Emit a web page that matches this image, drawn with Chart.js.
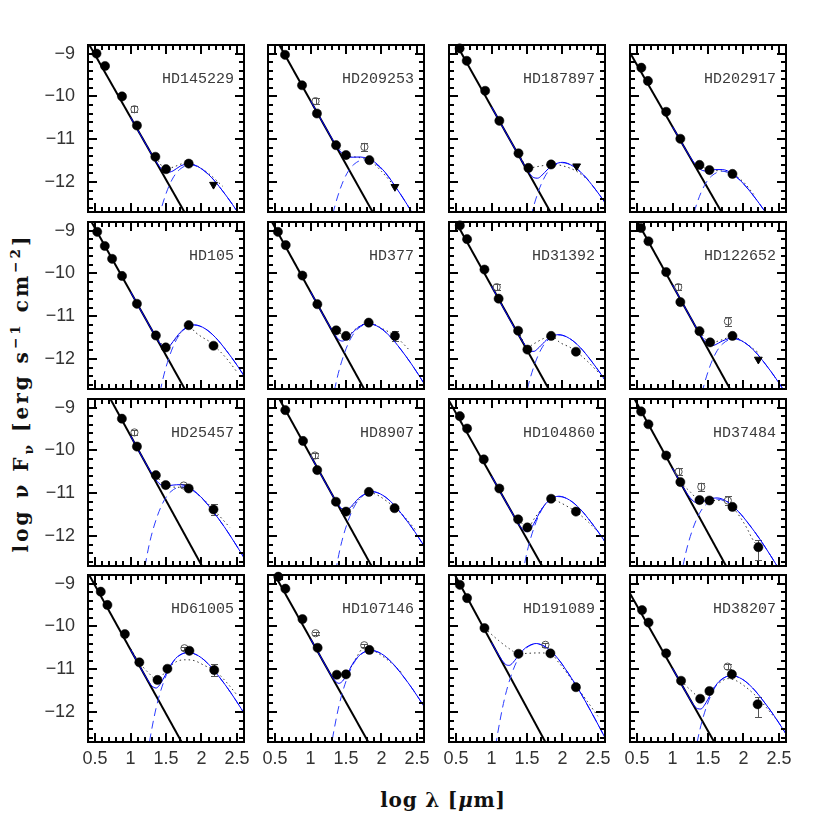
<!DOCTYPE html>
<html><head><meta charset="utf-8">
<script src="https://cdn.jsdelivr.net/npm/chart.js@4.4.1/dist/chart.umd.min.js"></script>
<style>
html,body{margin:0;padding:0;background:#fff;width:830px;height:830px;overflow:hidden;}
#wrap{position:relative;width:830px;height:830px;}
canvas{position:absolute;}
.title{position:absolute;font-family:"DejaVu Serif",serif;font-weight:bold;color:#111;white-space:nowrap;line-height:1;}
.title sub,.title sup{font-size:68%;}
</style></head><body><div id="wrap">
<div id="ytitle" class="title" style="left:22px;top:393px;font-size:20px;letter-spacing:3px;transform:translate(-50%,-50%) rotate(-90deg);">log&nbsp;ν&nbsp;F<sub>ν</sub>&nbsp;[erg&nbsp;s<sup>−1</sup>&nbsp;cm<sup>−2</sup>]</div>
<div id="xtitle" class="title" style="left:443px;top:800px;font-size:20px;letter-spacing:0.8px;transform:translate(-50%,-50%);">log&nbsp;λ&nbsp;[<i>μ</i>m]</div>
</div>
<script>
// ---------------- data ----------------
const names = ['HD145229','HD209253','HD187897','HD202917','HD105','HD377','HD31392','HD122652','HD25457','HD8907','HD104860','HD37484','HD61005','HD107146','HD191089','HD38207'];
const xTickVals = [0.5,1,1.5,2,2.5];
const xTickLabels = ['0.5','1','1.5','2','2.5'];
const yTickVals = [-9,-10,-11,-12];
const yTickLabels = ['\u22129','\u221210','\u221211','\u221212'];

// stellar photosphere (straight line endpoints)
const photX = [[0.42,1.76],[0.56,1.876],[0.51,1.83],[0.40,1.69],[0.45,1.765],[0.456,1.756],[0.497,1.806],[0.507,1.811],[0.716,2.007],[0.56,1.86],[0.40,1.713],[0.464,1.755],[0.417,1.72],[0.496,1.814],[0.484,1.759],[0.40,1.588]];
const photY = [[-8.8,-12.7],[-8.8,-12.7],[-8.8,-12.7],[-8.98,-12.7],[-8.8,-12.7],[-8.8,-12.7],[-8.8,-12.7],[-8.8,-12.7],[-8.8,-12.7],[-8.8,-12.7],[-8.84,-12.7],[-8.8,-12.7],[-8.8,-12.7],[-8.8,-12.7],[-8.8,-12.7],[-9.23,-12.7]];

// filled photometry
const detX = [
[0.52,0.64,0.88,1.09,1.35,1.50,1.82],
[0.64,0.88,1.09,1.36,1.50,1.83],
[0.55,0.65,0.91,1.11,1.38,1.52,1.84],
[0.56,0.653,0.91,1.11,1.38,1.52,1.845],
[0.53,0.637,0.74,0.88,1.09,1.357,1.496,1.82,2.17],
[0.54,0.65,0.885,1.096,1.362,1.50,1.82,2.19],
[0.553,0.655,0.90,1.10,1.375,1.505,1.84,2.19],
[0.555,0.66,0.91,1.11,1.38,1.53,1.845],
[0.878,1.09,1.357,1.496,1.82,2.17],
[0.644,0.894,1.094,1.358,1.50,1.823,2.185],
[0.553,0.655,0.89,1.11,1.375,1.505,1.84,2.19],
[0.557,0.66,0.91,1.11,1.38,1.52,1.845,2.21],
[0.58,0.674,0.92,1.124,1.38,1.52,1.83,2.18],
[0.545,0.645,0.886,1.10,1.37,1.50,1.83],
[0.553,0.655,0.90,1.38,1.83,2.19],
[0.57,0.662,0.91,1.12,1.39,1.52,1.837,2.20]];
const detY = [
[-9.0,-9.29,-10.0,-10.68,-11.41,-11.70,-11.57],
[-9.03,-9.74,-10.40,-11.14,-11.37,-11.49],
[-8.88,-9.17,-9.87,-10.57,-11.33,-11.67,-11.59],
[-9.33,-9.64,-10.36,-10.99,-11.60,-11.72,-11.81],
[-9.03,-9.36,-9.66,-10.06,-10.71,-11.45,-11.73,-11.21,-11.69],
[-9.03,-9.34,-10.05,-10.72,-11.33,-11.46,-11.15,-11.46],
[-8.88,-9.20,-9.91,-10.59,-11.34,-11.78,-11.46,-11.83],
[-8.94,-9.25,-9.97,-10.67,-11.35,-11.61,-11.46],
[-9.26,-9.91,-10.58,-10.81,-10.89,-11.38],
[-9.06,-9.78,-10.46,-11.20,-11.43,-10.97,-11.35],
[-9.20,-9.49,-10.21,-10.89,-11.61,-11.80,-11.13,-11.43],
[-9.09,-9.39,-10.12,-10.74,-11.16,-11.17,-11.32,-12.26],
[-9.19,-9.50,-10.18,-10.84,-11.25,-10.99,-10.57,-11.02],
[-8.84,-9.12,-9.83,-10.50,-11.13,-11.12,-10.55],
[-9.03,-9.34,-10.04,-10.64,-10.63,-11.42],
[-9.62,-9.91,-10.63,-11.27,-11.69,-11.51,-11.12,-11.82]];
const detErrUp = [
[0,0,0,0,0,0,0],[0,0,0,0,0,0],[0,0,0,0,0,0,0],[0,0,0,0,0,0,0],
[0,0,0,0,0,0,0,0,0],[0,0,0,0,0,0,0,0.12],[0,0,0,0,0,0,0,0.05],[0,0,0,0,0,0,0],
[0,0,0,0,0,0.12],[0,0,0,0,0,0,0.04],[0,0,0,0,0,0,0,0.06],[0,0,0,0,0,0,0,0.16],
[0,0,0,0,0.06,0,0,0.15],[0,0,0,0,0,0,0],[0,0,0,0,0,0.07],[0,0,0,0,0,0,0,0.16]];
const detErrDn = [
[0,0,0,0,0,0,0],[0,0,0,0,0,0],[0,0,0,0,0,0,0],[0,0,0,0,0,0,0],
[0,0,0,0,0,0,0,0,0],[0,0,0,0,0,0,0,0.12],[0,0,0,0,0,0,0,0.05],[0,0,0,0,0,0,0],
[0,0,0,0,0,0.12],[0,0,0,0,0,0,0.04],[0,0,0,0,0,0,0,0.06],[0,0,0,0,0,0,0,0.31],
[0,0,0,0,0.06,0,0,0.15],[0,0,0,0,0,0,0],[0,0,0,0,0,0.07],[0,0,0,0,0,0,0,0.29]];

// open symbols (other photometry)
const openX = [[1.055],[1.07,1.76],[],[],[],[],[1.073],[1.08,1.78],[1.055,1.75],[1.062],[],[1.085,1.405,1.78],[1.76],[1.07,1.757],[1.76],[1.776]];
const openY = [[-10.30],[-10.11,-11.18],[],[],[],[],[-10.32],[-10.32,-11.12],[-9.58,-10.82],[-10.12],[],[-10.50,-10.85,-11.17],[-10.51],[-10.16,-10.44],[-10.43],[-10.94]];
const openErr = [[0.07],[0.07,0.1],[],[],[],[],[0.07],[0.07,0.1],[0.05,0.04],[0.05],[],[0.08,0.1,0.1],[0.03],[0.04,0.04],[0.04],[0.05]];

// upper limits
const limX = [[2.17],[2.19],[2.20],[],[],[],[],[2.21],[],[],[],[],[],[],[],[]];
const limY = [[-12.06],[-12.11],[-11.63],[],[],[],[],[-12.01],[],[],[],[],[],[],[],[]];

// dust blackbody (dashed blue)
const bbX = [
[1.29,1.39,1.49,1.59,1.69,1.84,1.99,2.14,2.29,2.44,2.59,2.74],
[1.21,1.31,1.41,1.51,1.61,1.76,1.91,2.06,2.21,2.36,2.51,2.66],
[1.45,1.55,1.65,1.75,1.85,2.0,2.15,2.3,2.45,2.6,2.75],
[1.15,1.25,1.35,1.45,1.55,1.70,1.85,2.0,2.15,2.30,2.45,2.60],
[1.35,1.45,1.55,1.65,1.75,1.9,2.05,2.2,2.35,2.5,2.65,2.8],
[1.27,1.37,1.47,1.57,1.67,1.82,1.97,2.12,2.27,2.42,2.57,2.72],
[1.40,1.50,1.60,1.70,1.80,1.95,2.10,2.25,2.40,2.55,2.70],
[1.31,1.41,1.51,1.61,1.71,1.86,2.01,2.16,2.31,2.46,2.61,2.76],
[1.17,1.27,1.37,1.47,1.57,1.72,1.87,2.02,2.17,2.32,2.47,2.62,2.77],
[1.32,1.42,1.52,1.62,1.72,1.87,2.02,2.17,2.32,2.47,2.62,2.77],
[1.40,1.50,1.60,1.70,1.80,1.95,2.10,2.25,2.40,2.55,2.70],
[1.08,1.18,1.28,1.38,1.48,1.63,1.78,1.93,2.08,2.23,2.38,2.53],
[1.21,1.26,1.36,1.46,1.56,1.66,1.81,1.96,2.11,2.26,2.41,2.56,2.71],
[1.25,1.30,1.40,1.50,1.60,1.70,1.85,2.00,2.15,2.30,2.45,2.60,2.75],
[1.03,1.08,1.18,1.28,1.38,1.48,1.63,1.78,1.93,2.08,2.23,2.38,2.53,2.68],
[1.28,1.38,1.48,1.58,1.68,1.83,1.98,2.13,2.28,2.43,2.58,2.73]];
const bbY = [
[-13.75,-12.90,-12.32,-11.93,-11.71,-11.60,-11.68,-11.89,-12.19,-12.53,-12.91,-13.31],
[-13.63,-12.78,-12.20,-11.81,-11.59,-11.48,-11.57,-11.80,-12.14,-12.52,-12.95,-13.40],
[-13.70,-12.85,-12.27,-11.88,-11.66,-11.55,-11.63,-11.84,-12.14,-12.48,-12.86],
[-13.90,-13.05,-12.47,-12.08,-11.86,-11.75,-11.83,-12.04,-12.34,-12.68,-13.06,-13.46],
[-13.36,-12.51,-11.93,-11.54,-11.32,-11.21,-11.29,-11.50,-11.80,-12.14,-12.52,-12.92],
[-13.33,-12.48,-11.90,-11.51,-11.29,-11.18,-11.26,-11.47,-11.77,-12.11,-12.49,-12.89],
[-13.59,-12.74,-12.16,-11.77,-11.55,-11.44,-11.52,-11.73,-12.03,-12.37,-12.75],
[-13.68,-12.83,-12.25,-11.86,-11.64,-11.53,-11.61,-11.82,-12.12,-12.46,-12.84,-13.24],
[-13.00,-12.15,-11.57,-11.18,-10.96,-10.85,-10.93,-11.14,-11.44,-11.78,-12.16,-12.56,-12.95],
[-13.12,-12.27,-11.69,-11.30,-11.08,-10.97,-11.05,-11.26,-11.56,-11.90,-12.28,-12.68],
[-13.23,-12.38,-11.80,-11.41,-11.19,-11.08,-11.16,-11.37,-11.67,-12.01,-12.39],
[-13.29,-12.44,-11.86,-11.47,-11.25,-11.14,-11.22,-11.43,-11.73,-12.07,-12.45,-12.85],
[-13.29,-12.76,-11.91,-11.33,-10.94,-10.72,-10.61,-10.69,-10.90,-11.20,-11.54,-11.92,-12.32],
[-13.24,-12.71,-11.86,-11.28,-10.89,-10.67,-10.56,-10.64,-10.85,-11.15,-11.49,-11.87,-12.27],
[-13.09,-12.56,-11.71,-11.13,-10.74,-10.52,-10.41,-10.50,-10.74,-11.09,-11.48,-11.92,-12.38,-12.85],
[-13.30,-12.45,-11.87,-11.48,-11.26,-11.15,-11.23,-11.44,-11.74,-12.08,-12.46,-12.86]];

// star + dust total (solid blue)
const totX = [
[1.0,1.2,1.4,1.5,1.55,1.6,1.7,1.8,1.9,1.99,2.14,2.29,2.44,2.59,2.74],
[1.0,1.3,1.4,1.45,1.5,1.55,1.6,1.7,1.8,1.9,2.06,2.21,2.36,2.51,2.66],
[1.0,1.4,1.5,1.55,1.6,1.65,1.7,1.8,1.9,2.0,2.15,2.3,2.45,2.6,2.75],
[1.0,1.3,1.4,1.45,1.5,1.6,1.7,1.85,2.0,2.15,2.30,2.45,2.60],
[1.0,1.3,1.4,1.45,1.5,1.55,1.6,1.7,1.8,1.9,2.05,2.2,2.35,2.5,2.65],
[1.0,1.3,1.4,1.45,1.5,1.6,1.7,1.82,1.97,2.12,2.27,2.42,2.57,2.72],
[1.0,1.4,1.5,1.55,1.6,1.65,1.7,1.8,1.95,2.10,2.25,2.40,2.55,2.70],
[1.0,1.3,1.4,1.5,1.55,1.6,1.7,1.8,1.86,2.01,2.16,2.31,2.46,2.61,2.76],
[1.0,1.2,1.3,1.4,1.45,1.5,1.6,1.7,1.8,1.87,2.02,2.17,2.32,2.47,2.62],
[1.0,1.3,1.4,1.45,1.5,1.55,1.6,1.7,1.8,1.87,2.02,2.17,2.32,2.47,2.62],
[1.0,1.3,1.4,1.5,1.55,1.6,1.7,1.8,1.95,2.10,2.25,2.40,2.55,2.70],
[1.0,1.1,1.2,1.3,1.35,1.4,1.5,1.63,1.78,1.93,2.08,2.23,2.38,2.53],
[1.0,1.2,1.26,1.3,1.36,1.4,1.46,1.56,1.66,1.81,1.96,2.11,2.26,2.41,2.56,2.71],
[1.0,1.2,1.3,1.35,1.4,1.45,1.5,1.6,1.7,1.85,2.0,2.15,2.30,2.45,2.60,2.75],
[1.0,1.1,1.2,1.25,1.3,1.35,1.4,1.48,1.63,1.78,1.93,2.08,2.23,2.38,2.53,2.68],
[1.0,1.2,1.3,1.35,1.4,1.45,1.5,1.58,1.68,1.83,1.98,2.13,2.28,2.43,2.58,2.73]];
const totY = [
[-10.49,-11.07,-11.62,-11.78,-11.77,-11.74,-11.63,-11.58,-11.60,-11.68,-11.89,-12.19,-12.53,-12.91,-13.31],
[-10.10,-10.98,-11.245,-11.34,-11.39,-11.42,-11.42,-11.415,-11.45,-11.53,-11.79,-12.14,-12.52,-12.95,-13.40],
[-10.245,-11.43,-11.71,-11.83,-11.90,-11.91,-11.86,-11.69,-11.58,-11.54,-11.63,-11.84,-12.14,-12.48,-12.86],
[-10.71,-11.54,-11.71,-11.74,-11.74,-11.71,-11.71,-11.81,-12.04,-12.34,-12.68,-13.06,-13.46],
[-10.43,-11.32,-11.60,-11.70,-11.74,-11.70,-11.59,-11.38,-11.25,-11.20,-11.29,-11.50,-11.80,-12.14,-12.52],
[-10.43,-11.32,-11.55,-11.58,-11.54,-11.37,-11.23,-11.17,-11.26,-11.47,-11.77,-12.11,-12.49,-12.89],
[-10.30,-11.49,-11.74,-11.82,-11.82,-11.76,-11.68,-11.52,-11.43,-11.52,-11.73,-12.03,-12.37,-12.75],
[-10.27,-11.17,-11.45,-11.66,-11.69,-11.67,-11.58,-11.52,-11.51,-11.61,-11.82,-12.12,-12.46,-12.84,-13.24],
[-9.66,-10.26,-10.54,-10.77,-10.82,-10.83,-10.81,-10.80,-10.85,-10.91,-11.135,-11.44,-11.78,-12.16,-12.56],
[-10.12,-11.02,-11.29,-11.375,-11.40,-11.35,-11.26,-11.085,-11.0,-10.96,-11.05,-11.26,-11.56,-11.90,-12.28],
[-10.60,-11.49,-11.77,-11.90,-11.84,-11.70,-11.39,-11.18,-11.07,-11.16,-11.37,-11.67,-12.01,-12.39],
[-10.42,-10.72,-11.00,-11.195,-11.22,-11.215,-11.15,-11.11,-11.21,-11.43,-11.73,-12.07,-12.45,-12.85],
[-10.54,-11.14,-11.30,-11.39,-11.44,-11.39,-11.23,-10.92,-10.71,-10.61,-10.69,-10.90,-11.20,-11.54,-11.92,-12.32],
[-10.29,-10.88,-11.17,-11.28,-11.33,-11.28,-11.16,-10.86,-10.66,-10.56,-10.64,-10.85,-11.15,-11.49,-11.87,-12.27],
[-10.38,-10.67,-10.89,-10.91,-10.85,-10.745,-10.64,-10.50,-10.40,-10.50,-10.74,-11.09,-11.48,-11.92,-12.38,-12.85],
[-10.98,-11.57,-11.84,-11.92,-11.93,-11.84,-11.70,-11.45,-11.25,-11.15,-11.23,-11.44,-11.74,-12.08,-12.46,-12.86]];

// alternative model (dotted black)
const dotX = [
[1.35,1.5,1.62,1.75,1.9,2.1,2.3],
[1.36,1.5,1.65,1.83,2.0,2.19],
[1.38,1.52,1.68,1.84,2.0,2.2,2.4],
[1.38,1.52,1.68,1.845,2.0,2.15],
[1.357,1.496,1.6,1.7,1.82,1.91,2.0,2.12,2.2,2.35,2.5],
[1.362,1.5,1.65,1.82,2.0,2.19,2.4],
[1.375,1.505,1.6,1.72,1.84,1.97,2.11,2.19,2.35,2.5],
[1.38,1.53,1.7,1.845,2.0,2.21],
[1.357,1.496,1.65,1.82,2.0,2.17,2.4],
[1.358,1.5,1.65,1.823,1.95,2.07,2.185,2.35,2.5],
[1.375,1.505,1.62,1.74,1.84,1.97,2.08,2.19,2.35,2.5],
[1.11,1.25,1.38,1.52,1.65,1.78,1.845,1.95,2.05,2.12,2.21],
[1.0,1.124,1.25,1.38,1.52,1.65,1.77,1.9,2.05,2.18,2.35,2.5],
[1.37,1.5,1.62,1.757,1.9,2.1,2.3],
[0.9,1.1,1.25,1.38,1.5,1.65,1.83,1.95,2.07,2.19,2.35,2.5],
[1.12,1.25,1.39,1.52,1.65,1.78,1.9,2.02,2.16,2.3,2.45]];
const dotY = [
[-11.41,-11.70,-11.64,-11.57,-11.60,-11.80,-12.10],
[-11.14,-11.37,-11.42,-11.49,-11.75,-12.11],
[-11.33,-11.67,-11.63,-11.59,-11.62,-11.75,-12.0],
[-11.60,-11.72,-11.74,-11.81,-12.0,-12.3],
[-11.45,-11.73,-11.6,-11.40,-11.22,-11.37,-11.48,-11.60,-11.72,-11.98,-12.3],
[-11.33,-11.47,-11.28,-11.15,-11.28,-11.46,-11.8],
[-11.34,-11.72,-11.64,-11.53,-11.46,-11.62,-11.73,-11.82,-12.05,-12.3],
[-11.35,-11.62,-11.55,-11.47,-11.6,-11.85],
[-10.58,-10.83,-10.86,-10.89,-11.1,-11.38,-11.8],
[-11.20,-11.43,-11.2,-10.98,-11.05,-11.18,-11.33,-11.6,-11.9],
[-11.61,-11.80,-11.55,-11.3,-11.13,-11.22,-11.32,-11.43,-11.65,-11.9],
[-10.74,-10.97,-11.16,-11.17,-11.17,-11.2,-11.32,-11.55,-11.82,-12.05,-12.26],
[-10.52,-10.84,-11.08,-11.25,-10.99,-10.82,-10.78,-10.8,-10.92,-11.02,-11.3,-11.6],
[-11.13,-11.12,-10.8,-10.5,-10.58,-10.8,-11.1],
[-10.04,-10.33,-10.52,-10.64,-10.63,-10.62,-10.63,-10.85,-11.1,-11.38,-11.75,-12.1],
[-11.27,-11.48,-11.65,-11.51,-11.33,-11.22,-11.27,-11.4,-11.6,-11.85,-12.15]];

// ---------------- layout ----------------
const colLeft = [88, 268, 449, 630];
const rowTop = [45, 222, 399, 575];
const PW = 156, PH = 167;
const X_MIN = 0.4, X_MAX = 2.6, Y_MIN = -12.7, Y_MAX = -8.8;

const errPlugin = {
  id: 'errbars',
  beforeDatasetsDraw(chart) {
    const {ctx, scales: {x, y}} = chart;
    ctx.save();
    ctx.strokeStyle = '#555';
    ctx.lineWidth = 1;
    chart.data.datasets.forEach(ds => {
      if (!ds.errUp) return;
      ds.data.forEach((pt, i) => {
        const up = ds.errUp[i], dn = ds.errDn[i];
        if (!up && !dn) return;
        const px = Math.round(x.getPixelForValue(pt.x)) + 0.5;
        const y1 = Math.round(y.getPixelForValue(pt.y + up)) + 0.5;
        const y2 = Math.round(y.getPixelForValue(pt.y - dn)) + 0.5;
        ctx.beginPath();
        ctx.moveTo(px, y1); ctx.lineTo(px, y2);
        ctx.moveTo(px - 3.5, y1); ctx.lineTo(px + 3.5, y1);
        ctx.moveTo(px - 3.5, y2); ctx.lineTo(px + 3.5, y2);
        ctx.stroke();
      });
    });
    ctx.restore();
  }
};

const framePlugin = {
  id: 'frame',
  afterDatasetsDraw(chart, args, opts) {
    const {ctx, chartArea: a, scales: {x, y}} = chart;
    ctx.save();
    ctx.strokeStyle = '#000';
    ctx.lineWidth = 2;
    ctx.beginPath();
    for (let i = 4; i <= 26; i++) {
      const v = i / 10, major = (i % 5 === 0), len = major ? 9 : 5;
      const px = Math.round(x.getPixelForValue(v));
      ctx.moveTo(px, a.bottom); ctx.lineTo(px, a.bottom - len);
      ctx.moveTo(px, a.top); ctx.lineTo(px, a.top + len);
    }
    for (let k = -63; k <= -44; k++) {
      const v = k / 5, major = (k % 5 === 0), len = major ? 9 : 5;
      const py = Math.round(y.getPixelForValue(v));
      ctx.moveTo(a.left, py); ctx.lineTo(a.left + len, py);
      ctx.moveTo(a.right, py); ctx.lineTo(a.right - len, py);
    }
    ctx.stroke();
    ctx.strokeRect(a.left, a.top, a.right - a.left, a.bottom - a.top);

    ctx.fillStyle = '#333';
    if (opts.showY) {
      ctx.font = '18px "Liberation Sans"';
      ctx.textAlign = 'right';
      ctx.textBaseline = 'middle';
      yTickVals.forEach((v, i) => ctx.fillText(yTickLabels[i], a.left - 13, y.getPixelForValue(v)));
    }
    if (opts.showX) {
      ctx.font = '18px "Liberation Sans"';
      ctx.textAlign = 'center';
      ctx.textBaseline = 'middle';
      xTickVals.forEach((v, i) => ctx.fillText(xTickLabels[i], x.getPixelForValue(v), a.bottom + 17));
    }
    ctx.font = '15px "Liberation Mono"';
    ctx.textAlign = 'right';
    ctx.textBaseline = 'middle';
    ctx.fillStyle = '#3a3a3a';
    ctx.fillText(opts.name, a.right - 10, y.getPixelForValue(-9.6));
    ctx.restore();
  }
};

function pts(xs, ys) { return xs.map((v, i) => ({x: v, y: ys[i]})); }

const wrap = document.getElementById('wrap');
for (let p = 0; p < 16; p++) {
  const row = Math.floor(p / 4), col = p % 4;
  const padL = col === 0 ? 62 : 8, padR = 8, padT = 8, padB = row === 3 ? 34 : 8;
  const W = PW + padL + padR, H = PH + padT + padB;
  const cv = document.createElement('canvas');
  cv.width = W; cv.height = H;
  cv.style.width = W + 'px'; cv.style.height = H + 'px';
  cv.style.left = (colLeft[col] - padL) + 'px';
  cv.style.top = (rowTop[row] - padT) + 'px';
  wrap.appendChild(cv);

  new Chart(cv, {
    type: 'line',
    data: {
      datasets: [
        { label: 'upper limit', data: pts(limX[p], limY[p]), showLine: false, pointStyle: 'triangle', rotation: 180,
          pointRadius: 4.5, pointBackgroundColor: '#000', pointBorderColor: '#000', pointBorderWidth: 1, clip: false },
        { label: 'photometry', data: pts(detX[p], detY[p]), showLine: false, pointStyle: 'circle',
          pointRadius: 4.6, pointBackgroundColor: '#000', pointBorderColor: '#000', pointBorderWidth: 0.5, clip: false,
          errUp: detErrUp[p], errDn: detErrDn[p] },
        { label: 'other photometry', data: pts(openX[p], openY[p]), showLine: false, pointStyle: 'circle',
          pointRadius: 3.6, pointBackgroundColor: 'rgba(0,0,0,0)', pointBorderColor: '#555', pointBorderWidth: 1, clip: false,
          errUp: openErr[p], errDn: openErr[p] },
        { label: 'star+disk', data: pts(totX[p], totY[p]), borderColor: '#0000ff', borderWidth: 1, pointRadius: 0,
          cubicInterpolationMode: 'monotone', fill: false },
        { label: 'disk', data: pts(bbX[p], bbY[p]), borderColor: '#2b3cff', borderWidth: 1, borderDash: [8, 5], pointRadius: 0,
          cubicInterpolationMode: 'monotone', fill: false },
        { label: 'photosphere', data: pts(photX[p], photY[p]), borderColor: '#000', borderWidth: 2, pointRadius: 0, fill: false },
        { label: 'alt model', data: pts(dotX[p], dotY[p]), borderColor: '#333', borderWidth: 1, borderDash: [1.5, 3], pointRadius: 0,
          cubicInterpolationMode: 'monotone', fill: false }
      ]
    },
    options: {
      responsive: false, devicePixelRatio: 1, animation: false, events: [],
      layout: { padding: { left: padL, right: padR, top: padT, bottom: padB } },
      scales: {
        x: { type: 'linear', min: X_MIN, max: X_MAX, display: false },
        y: { type: 'linear', min: Y_MIN, max: Y_MAX, display: false }
      },
      plugins: {
        legend: { display: false }, tooltip: { enabled: false },
        frame: { showX: row === 3, showY: col === 0, name: names[p] }
      }
    },
    plugins: [errPlugin, framePlugin]
  });
}
</script>
</body></html>
